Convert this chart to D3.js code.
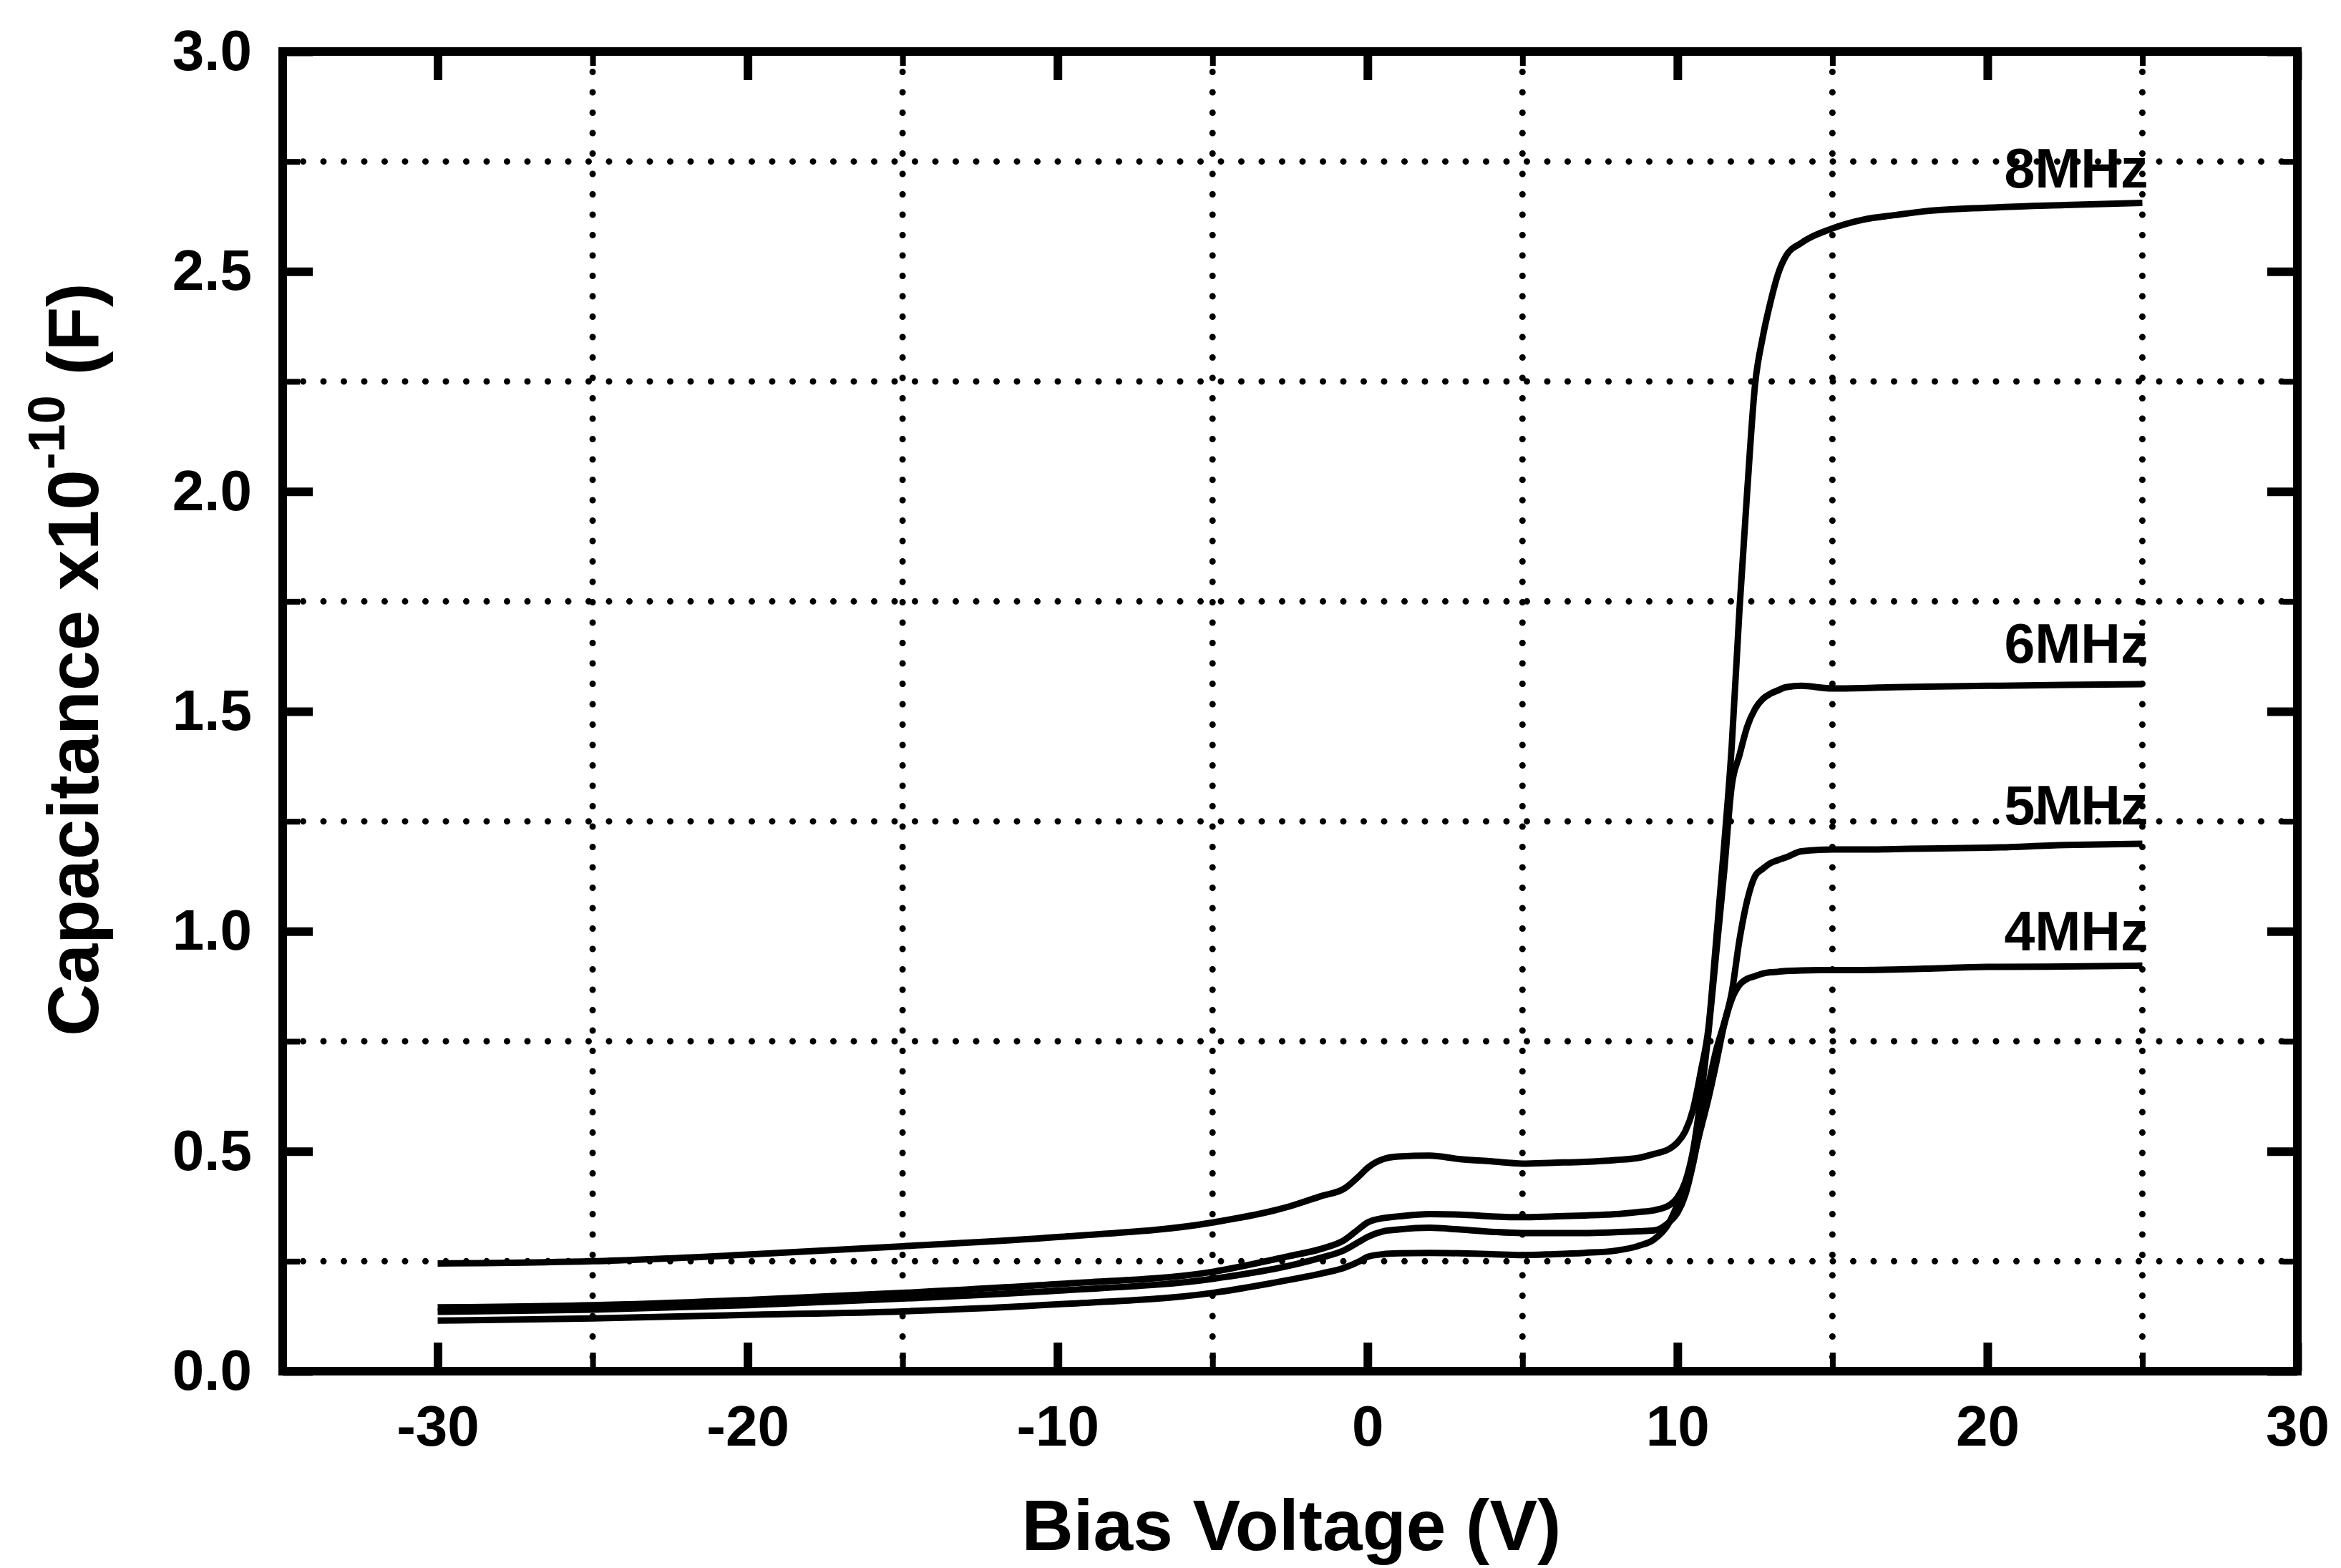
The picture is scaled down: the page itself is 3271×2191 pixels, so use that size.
<!DOCTYPE html>
<html>
<head>
<meta charset="utf-8">
<script src="https://cdn.jsdelivr.net/npm/d3@7"></script>
<style>
  html, body { margin: 0; padding: 0; background: #fff; }
  svg { display: block; }
  text { font-family: "Liberation Sans", Arial, Helvetica, sans-serif; font-weight: bold; fill: #000; }
</style>
</head>
<body>
<svg id="chart" width="3271" height="2191"></svg>
<script>
// ---------- data ----------
const biasVoltage = [-30, -25, -20, -15, -10, -5, -2.5, -1.5, -0.75, -0.25, 0, 0.5, 1, 2, 3, 4, 5, 6, 7, 8,
  8.75, 9.25, 9.75, 10, 10.25, 10.5, 10.75, 11, 11.25, 11.5, 11.75, 12, 12.25, 12.5, 12.75, 13, 13.25, 13.5,
  14, 15, 16, 17, 18, 20, 22.5, 25];

const cap8MHz = [0.245, 0.250, 0.265, 0.284, 0.305, 0.338, 0.375, 0.398, 0.415, 0.445, 0.462, 0.482, 0.488, 0.490, 0.482, 0.477, 0.472, 0.474, 0.476, 0.480,
  0.485, 0.494, 0.506, 0.520, 0.545, 0.594, 0.680, 0.780, 0.980, 1.190, 1.420, 1.730, 2.000, 2.240, 2.350, 2.430, 2.495, 2.535,
  2.565, 2.598, 2.618, 2.628, 2.637, 2.645, 2.651, 2.656];

const cap6MHz = [0.145, 0.150, 0.162, 0.178, 0.198, 0.226, 0.262, 0.278, 0.298, 0.325, 0.338, 0.348, 0.352, 0.357, 0.356, 0.352, 0.350, 0.352, 0.354, 0.357,
  0.362, 0.366, 0.378, 0.395, 0.430, 0.500, 0.620, 0.770, 0.950, 1.130, 1.330, 1.400, 1.465, 1.505, 1.528, 1.540, 1.548, 1.555,
  1.558, 1.552, 1.553, 1.555, 1.556, 1.558, 1.560, 1.562];

const cap5MHz = [0.135, 0.140, 0.150, 0.165, 0.183, 0.210, 0.240, 0.258, 0.275, 0.295, 0.305, 0.318, 0.322, 0.326, 0.322, 0.317, 0.314, 0.314, 0.314, 0.316,
  0.318, 0.320, 0.340, 0.360, 0.400, 0.470, 0.560, 0.650, 0.730, 0.790, 0.860, 0.980, 1.070, 1.125, 1.142, 1.155, 1.162, 1.168,
  1.182, 1.186, 1.186, 1.187, 1.188, 1.190, 1.196, 1.199];

const cap4MHz = [0.115, 0.120, 0.128, 0.136, 0.152, 0.178, 0.208, 0.222, 0.235, 0.250, 0.260, 0.266, 0.268, 0.269, 0.268, 0.266, 0.264, 0.266, 0.269, 0.274,
  0.285, 0.300, 0.340, 0.379, 0.425, 0.480, 0.550, 0.620, 0.700, 0.785, 0.845, 0.878, 0.892, 0.898, 0.904, 0.907, 0.908, 0.910,
  0.911, 0.912, 0.912, 0.913, 0.915, 0.919, 0.920, 0.922];

const seriesNames = ["8MHz", "6MHz", "5MHz", "4MHz"];
const seriesValues = [cap8MHz, cap6MHz, cap5MHz, cap4MHz];
const labelBias = [25, 25, 25, 25];
const labelCap = [2.691, 1.610, 1.243, 0.957];

const xTicks = [-30, -20, -10, 0, 10, 20, 30];
const yTicks = [0.0, 0.5, 1.0, 1.5, 2.0, 2.5, 3.0];
const xGrid = [-25, -15, -5, 5, 15, 25];
const yGrid = [0.25, 0.75, 1.25, 1.75, 2.25, 2.75];

const xTitle = "Bias Voltage (V)";
const yTitleMain = "Capacitance x10";
const yTitleSup = "-10";
const yTitleEnd = " (F)";

// ---------- layout ----------
const plotLeft = 395, plotRight = 3210, plotTop = 72, plotBottom = 1916;

const svg = d3.select("#chart");
svg.append("rect").attr("width", 3271).attr("height", 2191).attr("fill", "#fff");

const x = d3.scaleLinear().domain([-35, 30]).range([plotLeft, plotRight]);
const y = d3.scaleLinear().domain([0, 3]).range([plotBottom, plotTop]);

// grid
const grid = svg.append("g").attr("stroke", "#000").attr("stroke-width", 9)
  .attr("stroke-linecap", "round").attr("stroke-dasharray", "0 28.5").attr("fill", "none");
grid.selectAll("line.v").data(xGrid).join("line").attr("class", "v")
  .attr("x1", d => x(d)).attr("x2", d => x(d)).attr("y1", plotTop).attr("y2", plotBottom);
grid.selectAll("line.h").data(yGrid).join("line").attr("class", "h")
  .attr("x1", plotLeft).attr("x2", plotRight).attr("y1", d => y(d)).attr("y2", d => y(d));

// curves
const line = d3.line().x(d => x(d[0])).y(d => y(d[1])).curve(d3.curveMonotoneX);
svg.append("g").selectAll("path").data(seriesValues).join("path")
  .attr("d", vals => line(biasVoltage.map((v, i) => [v, vals[i]])))
  .attr("fill", "none").attr("stroke", "#000").attr("stroke-width", 9)
  .attr("stroke-linejoin", "round");

// series labels
svg.append("g").selectAll("text").data(seriesNames).join("text")
  .attr("x", (d, i) => x(labelBias[i]) + 8)
  .attr("y", (d, i) => y(labelCap[i]))
  .attr("text-anchor", "end").attr("font-size", 77)
  .text(d => d);

// axes
function styleAxis(g, width) {
  g.select(".domain").remove();
  g.selectAll(".tick line").attr("stroke", "#000").attr("stroke-width", width);
  g.selectAll(".tick text").attr("font-size", 80).attr("font-family", "Liberation Sans, Arial, sans-serif")
    .attr("font-weight", "bold").attr("fill", "#000");
}
const fmtX = d => String(d);
const fmtY = d => d.toFixed(1);

svg.append("g").attr("transform", `translate(0,${plotBottom})`)
  .call(d3.axisBottom(x).tickValues(xTicks).tickFormat(fmtX).tickSizeInner(-40).tickSizeOuter(0).tickPadding(47))
  .call(g => styleAxis(g, 12));
svg.append("g").attr("transform", `translate(0,${plotTop})`)
  .call(d3.axisTop(x).tickValues(xTicks).tickFormat("").tickSizeInner(-40).tickSizeOuter(0))
  .call(g => styleAxis(g, 12));
svg.append("g").attr("transform", `translate(${plotLeft},0)`)
  .call(d3.axisLeft(y).tickValues(yTicks).tickFormat(fmtY).tickSizeInner(-42).tickSizeOuter(0).tickPadding(43))
  .call(g => styleAxis(g, 12));
svg.append("g").attr("transform", `translate(${plotRight},0)`)
  .call(d3.axisRight(y).tickValues(yTicks).tickFormat("").tickSizeInner(-42).tickSizeOuter(0))
  .call(g => styleAxis(g, 12));

// minor ticks at grid positions
svg.append("g").attr("transform", `translate(0,${plotBottom})`)
  .call(d3.axisBottom(x).tickValues(xGrid).tickFormat("").tickSizeInner(-26).tickSizeOuter(0))
  .call(g => styleAxis(g, 8));
svg.append("g").attr("transform", `translate(0,${plotTop})`)
  .call(d3.axisTop(x).tickValues(xGrid).tickFormat("").tickSizeInner(-20).tickSizeOuter(0))
  .call(g => styleAxis(g, 8));
svg.append("g").attr("transform", `translate(${plotLeft},0)`)
  .call(d3.axisLeft(y).tickValues(yGrid).tickFormat("").tickSizeInner(-24).tickSizeOuter(0))
  .call(g => styleAxis(g, 8));
svg.append("g").attr("transform", `translate(${plotRight},0)`)
  .call(d3.axisRight(y).tickValues(yGrid).tickFormat("").tickSizeInner(-20).tickSizeOuter(0))
  .call(g => styleAxis(g, 8));

// frame
svg.append("rect").attr("x", plotLeft).attr("y", plotTop)
  .attr("width", plotRight - plotLeft).attr("height", plotBottom - plotTop)
  .attr("fill", "none").attr("stroke", "#000").attr("stroke-width", 12)
  .attr("stroke-linejoin", "miter");

// titles
svg.append("text").attr("x", (plotLeft + plotRight) / 2 + 2).attr("y", 2166)
  .attr("text-anchor", "middle").attr("font-size", 100).text(xTitle);

const yt = svg.append("text").attr("transform", "translate(137,1448) rotate(-90)")
  .attr("text-anchor", "start").attr("font-size", 101);
yt.append("tspan").text(yTitleMain);
yt.append("tspan").attr("font-size", 72).attr("dy", -47).text(yTitleSup);
yt.append("tspan").attr("dy", 47).text(yTitleEnd);
</script>
</body>
</html>
